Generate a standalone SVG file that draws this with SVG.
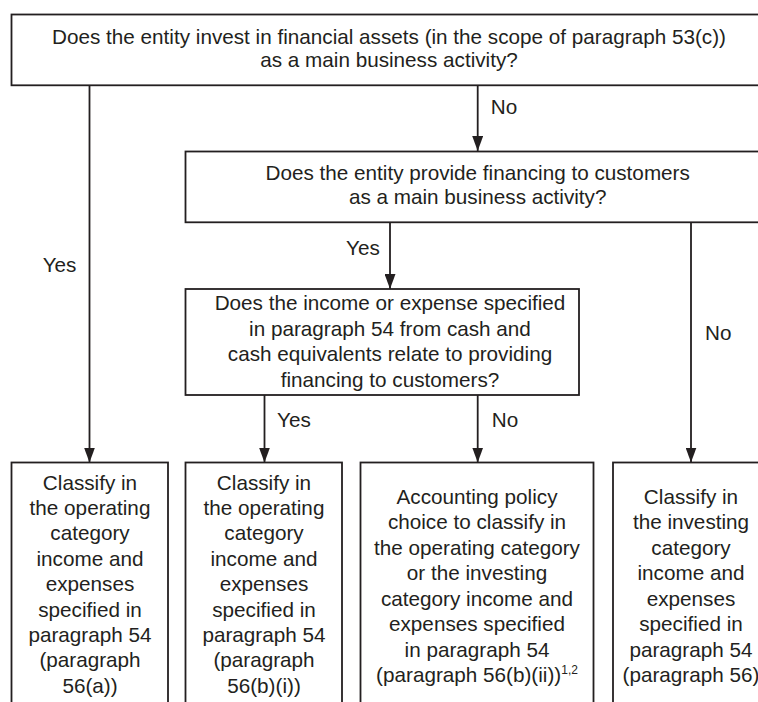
<svg xmlns="http://www.w3.org/2000/svg" width="758" height="702" viewBox="0 0 758 702">
<defs>
<style>
.box{fill:#fff;stroke:#231f20;stroke-width:1.8}
.t{font-family:"Liberation Sans",Arial,Helvetica,sans-serif;font-size:20.7px;fill:#231f20;text-anchor:middle}
.l{font-family:"Liberation Sans",Arial,Helvetica,sans-serif;font-size:20.7px;fill:#231f20}
.c{stroke:#231f20;stroke-width:1.8;fill:none;marker-end:url(#ah)}
</style>
<marker id="ah" markerUnits="userSpaceOnUse" markerWidth="15" markerHeight="11" refX="15" refY="5.5" orient="auto" viewBox="0 0 15 11">
<path d="M0,0 L15,5.5 L0,11 z" fill="#231f20"/>
</marker>
</defs>
<rect width="758" height="702" fill="#fff"/>
<g id="connectors">
<line class="c" x1="89.5" y1="85" x2="89.5" y2="462.5"/>
<line class="c" x1="477.7" y1="85" x2="477.7" y2="151"/>
<line class="c" x1="390" y1="222.3" x2="390" y2="289"/>
<line class="c" x1="691" y1="222.3" x2="691" y2="462.5"/>
<line class="c" x1="264.5" y1="395" x2="264.5" y2="462.5"/>
<line class="c" x1="477.7" y1="395" x2="477.7" y2="462.5"/>
<text class="l" x="490.7" y="114">No</text>
<text class="l" x="42.7" y="271.7">Yes</text>
<text class="l" x="346" y="255">Yes</text>
<text class="l" x="705" y="340">No</text>
<text class="l" x="277" y="426.7">Yes</text>
<text class="l" x="491.7" y="426.7">No</text>
</g>
<g id="q1">
<rect class="box" x="11.5" y="14.5" width="800" height="70.8"/>
<text class="t" x="389" y="43.5">Does the entity invest in financial assets (in the scope of paragraph 53(c))</text>
<text class="t" x="389" y="67">as a main business activity?</text>
</g>
<g id="q2">
<rect class="box" x="185.5" y="151.5" width="620" height="70.8"/>
<text class="t" x="477.7" y="180">Does the entity provide financing to customers</text>
<text class="t" x="477.7" y="204">as a main business activity?</text>
</g>
<g id="q3">
<rect class="box" x="185.5" y="289" width="393.5" height="106"/>
<text class="t" x="390" y="310">Does the income or expense specified</text>
<text class="t" x="390" y="335.5">in paragraph 54 from cash and</text>
<text class="t" x="390" y="361">cash equivalents relate to providing</text>
<text class="t" x="390" y="386.5">financing to customers?</text>
</g>
<g id="r1">
<rect class="box" x="11.5" y="462.5" width="156.5" height="260"/>
<text class="t" x="90" y="489.5">Classify in</text>
<text class="t" x="90" y="514.9">the operating</text>
<text class="t" x="90" y="540.3">category</text>
<text class="t" x="90" y="565.7">income and</text>
<text class="t" x="90" y="591.1">expenses</text>
<text class="t" x="90" y="616.5">specified in</text>
<text class="t" x="90" y="641.9">paragraph 54</text>
<text class="t" x="90" y="667.3">(paragraph</text>
<text class="t" x="90" y="692.7">56(a))</text>
</g>
<g id="r2">
<rect class="box" x="185.5" y="462.5" width="156.5" height="260"/>
<text class="t" x="264" y="489.5">Classify in</text>
<text class="t" x="264" y="514.9">the operating</text>
<text class="t" x="264" y="540.3">category</text>
<text class="t" x="264" y="565.7">income and</text>
<text class="t" x="264" y="591.1">expenses</text>
<text class="t" x="264" y="616.5">specified in</text>
<text class="t" x="264" y="641.9">paragraph 54</text>
<text class="t" x="264" y="667.3">(paragraph</text>
<text class="t" x="264" y="692.7">56(b)(i))</text>
</g>
<g id="r3">
<rect class="box" x="360.5" y="462.5" width="233" height="260"/>
<text class="t" x="477" y="503.5">Accounting policy</text>
<text class="t" x="477" y="529">choice to classify in</text>
<text class="t" x="477" y="554.5">the operating category</text>
<text class="t" x="477" y="580">or the investing</text>
<text class="t" x="477" y="605.5">category income and</text>
<text class="t" x="477" y="631">expenses specified</text>
<text class="t" x="477" y="656.5">in paragraph 54</text>
<text class="t" x="477" y="682">(paragraph 56(b)(ii))<tspan font-size="12" dy="-8">1,2</tspan></text>
</g>
<g id="r4">
<rect class="box" x="613" y="462.5" width="160" height="260"/>
<text class="t" x="691" y="503.5">Classify in</text>
<text class="t" x="691" y="529">the investing</text>
<text class="t" x="691" y="554.5">category</text>
<text class="t" x="691" y="580">income and</text>
<text class="t" x="691" y="605.5">expenses</text>
<text class="t" x="691" y="631">specified in</text>
<text class="t" x="691" y="656.5">paragraph 54</text>
<text class="t" x="691" y="682">(paragraph 56)</text>
</g>
</svg>
